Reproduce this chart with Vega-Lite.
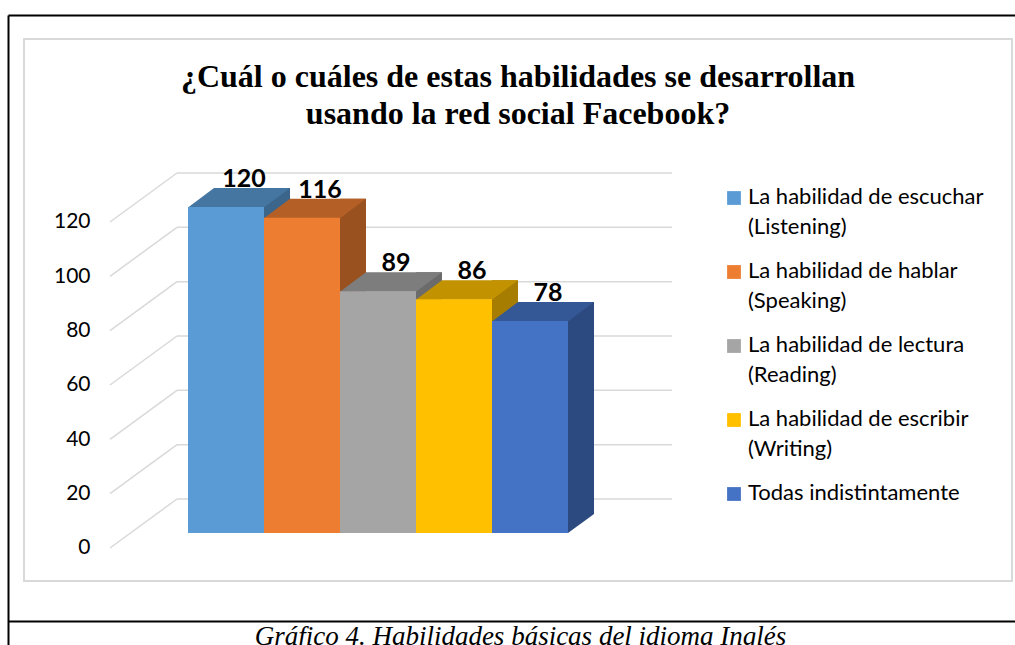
{
  "$schema": "https://vega.github.io/schema/vega-lite/v6.json",
  "width": 988,
  "height": 542,
  "autosize": "none",
  "padding": {"left": 24, "top": 39, "right": 3, "bottom": 64},
  "background": "white",
  "config": {
    "view": {"stroke": "#d9d9d9", "strokeWidth": 2},
    "font": "Lato"
  },
  "title": {
    "text": ["¿Cuál o cuáles de estas habilidades se desarrollan", "usando la red social Facebook?"],
    "font": "Liberation Serif",
    "fontSize": 32,
    "fontWeight": "bold",
    "color": "black",
    "anchor": "middle",
    "frame": "group",
    "lineHeight": 37,
    "offset": -116
  },
  "datasets": {
    "bars": [
      {"skill": "La habilidad de escuchar (Listening)", "count": 120},
      {"skill": "La habilidad de hablar (Speaking)", "count": 116},
      {"skill": "La habilidad de lectura (Reading)", "count": 89},
      {"skill": "La habilidad de escribir (Writing)", "count": 86},
      {"skill": "Todas indistintamente", "count": 78}
    ],
    "ticks": [{"v": 0}, {"v": 20}, {"v": 40}, {"v": 60}, {"v": 80}, {"v": 100}, {"v": 120}]
  },
  "layer": [
    {
      "data": {"name": "ticks"},
      "mark": {"type": "rule", "color": "#d9d9d9", "strokeWidth": 1.5, "xOffset": 67.4, "x2Offset": 562.4, "yOffset": -34},
      "encoding": {
        "x": {"datum": "La habilidad de escuchar (Listening)", "type": "nominal",
              "scale": {"type": "band", "domain": ["La habilidad de escuchar (Listening)", "La habilidad de hablar (Speaking)", "La habilidad de lectura (Reading)", "La habilidad de escribir (Writing)", "Todas indistintamente"], "range": [-16, 1000], "paddingInner": 0, "paddingOuter": 0},
              "axis": {"orient": "top", "offset": 24, "domain": true, "domainColor": "black", "domainWidth": 2, "ticks": false, "labels": false, "title": null, "grid": false}},
        "x2": {"datum": "La habilidad de escuchar (Listening)"},
        "y": {"field": "v", "type": "quantitative",
              "scale": {"domain": [-43.07, 190.67], "range": [611, -24], "nice": false, "zero": false},
              "axis": {"orient": "left", "offset": 16, "values": [0, 20, 40, 60, 80, 100, 120], "ticks": false, "tickSize": 0, "grid": false,
                       "domain": true, "domainColor": "black", "domainWidth": 2, "labelPadding": -82, "labelAlign": "right",
                       "labelBaseline": "middle", "labelOffset": 15, "labelFont": "Lato", "labelFontSize": 21, "labelColor": "black",
                       "labelFlush": false, "labelOverlap": false, "labelBound": false, "title": null}}
      }
    },
    {
      "data": {"name": "ticks"},
      "mark": {"type": "rule", "color": "#d9d9d9", "strokeWidth": 1.5, "xOffset": 0.4, "x2Offset": 67.4, "yOffset": 15, "y2Offset": -34},
      "encoding": {
        "x": {"datum": "La habilidad de escuchar (Listening)", "type": "nominal",
              "scale": {"type": "band", "domain": ["La habilidad de escuchar (Listening)", "La habilidad de hablar (Speaking)", "La habilidad de lectura (Reading)", "La habilidad de escribir (Writing)", "Todas indistintamente"], "range": [-16, 1000], "paddingInner": 0, "paddingOuter": 0},
              "axis": {"orient": "bottom", "offset": 40, "domain": true, "domainColor": "black", "domainWidth": 2, "ticks": false, "labels": false, "grid": false,
                       "title": "Gráfico 4. Habilidades básicas del idioma Inglés", "titleFont": "Liberation Serif", "titleFontStyle": "italic",
                       "titleFontWeight": "normal", "titleFontSize": 27, "titleColor": "black", "titlePadding": 2, "titleX": 496}},
        "x2": {"datum": "La habilidad de escuchar (Listening)"},
        "y": {"field": "v", "type": "quantitative"},
        "y2": {"field": "v"}
      }
    },
    {
      "data": {"name": "bars"},
      "mark": {"type": "bar", "width": 26, "xOffset": 51, "yOffset": -19},
      "encoding": {
        "x": {"field": "skill", "type": "nominal", "sort": null, "axis": null,
              "scale": {"type": "band", "domain": ["La habilidad de escuchar (Listening)", "La habilidad de hablar (Speaking)", "La habilidad de lectura (Reading)", "La habilidad de escribir (Writing)", "Todas indistintamente"], "range": [164, 544], "paddingInner": 0, "paddingOuter": 0}},
        "y": {"field": "count", "type": "quantitative"},
        "y2": {"datum": 0},
        "color": {"field": "skill", "type": "nominal", "sort": null, "legend": null,
                  "scale": {"range": ["#3B658A", "#9A5120", "#6B6B6B", "#A67D00", "#2C4A7F"]}}
      }
    },
    {
      "data": {"name": "bars"},
      "mark": {"type": "point", "shape": "M0.5229 0.0143L0.9429 0.0143L0.9429 -0.2857L0.9343 -0.2857Z", "size": 19600, "filled": true, "color": "white", "opacity": 1, "strokeWidth": 0},
      "encoding": {
        "x": {"field": "skill", "type": "nominal", "sort": null, "axis": null,
              "scale": {"type": "band", "domain": ["La habilidad de escuchar (Listening)", "La habilidad de hablar (Speaking)", "La habilidad de lectura (Reading)", "La habilidad de escribir (Writing)", "Todas indistintamente"], "range": [164, 544], "paddingInner": 0, "paddingOuter": 0}},
        "y": {"datum": 0, "type": "quantitative"}
      }
    },
    {
      "data": {"name": "bars"},
      "mark": {"type": "point", "shape": "M-0.5429 0.007L0.5429 0.007L0.9143 -0.2714L-0.1714 -0.2714Z", "size": 19600, "filled": true, "opacity": 1, "strokeWidth": 0},
      "encoding": {
        "x": {"field": "skill", "type": "nominal", "sort": null, "axis": null,
              "scale": {"type": "band", "domain": ["La habilidad de escuchar (Listening)", "La habilidad de hablar (Speaking)", "La habilidad de lectura (Reading)", "La habilidad de escribir (Writing)", "Todas indistintamente"], "range": [164, 544], "paddingInner": 0, "paddingOuter": 0}},
        "y": {"field": "count", "type": "quantitative"},
        "color": {"field": "skill", "type": "nominal", "sort": null, "legend": null,
                  "scale": {"range": ["#4576A2", "#B45F25", "#7D7D7D", "#C29200", "#345795"]}}
      }
    },
    {
      "data": {"name": "bars"},
      "mark": {"type": "bar"},
      "encoding": {
        "x": {"field": "skill", "type": "nominal", "sort": null, "axis": null,
              "scale": {"type": "band", "domain": ["La habilidad de escuchar (Listening)", "La habilidad de hablar (Speaking)", "La habilidad de lectura (Reading)", "La habilidad de escribir (Writing)", "Todas indistintamente"], "range": [164, 544], "paddingInner": 0, "paddingOuter": 0}},
        "y": {"field": "count", "type": "quantitative"},
        "y2": {"datum": 0},
        "color": {"field": "skill", "type": "nominal", "sort": null,
                  "scale": {"range": ["#5B9BD5", "#ED7D31", "#A5A5A5", "#FFC000", "#4472C4"]},
                  "legend": {"orient": "none", "legendX": 699, "legendY": 148, "title": null, "symbolType": "square", "symbolSize": 190,
                             "symbolStrokeWidth": 0, "labelFont": "Lato", "labelFontSize": 22, "labelColor": "black", "labelOffset": 3,
                             "rowPadding": 22, "labelBaseline": "top", "labelLimit": 400, "padding": 0,
                             "labelExpr": "split(replace(datum.label, ' (', '|('), '|')",
                             "encode": {"labels": {"update": {"lineHeight": {"value": 30}, "dy": {"value": -11}}}}}}
      }
    },
    {
      "data": {"name": "bars"},
      "mark": {"type": "text", "font": "Lato", "fontWeight": "bold", "fontSize": 25, "dx": 18, "dy": -28, "baseline": "middle", "align": "center", "color": "black"},
      "encoding": {
        "x": {"field": "skill", "type": "nominal", "sort": null, "axis": null,
              "scale": {"type": "band", "domain": ["La habilidad de escuchar (Listening)", "La habilidad de hablar (Speaking)", "La habilidad de lectura (Reading)", "La habilidad de escribir (Writing)", "Todas indistintamente"], "range": [164, 544], "paddingInner": 0, "paddingOuter": 0}},
        "y": {"field": "count", "type": "quantitative"},
        "text": {"field": "count", "type": "quantitative"}
      }
    }
  ],
  "resolve": {"scale": {"color": "independent", "x": "independent"}, "axis": {"x": "independent"}}
}
